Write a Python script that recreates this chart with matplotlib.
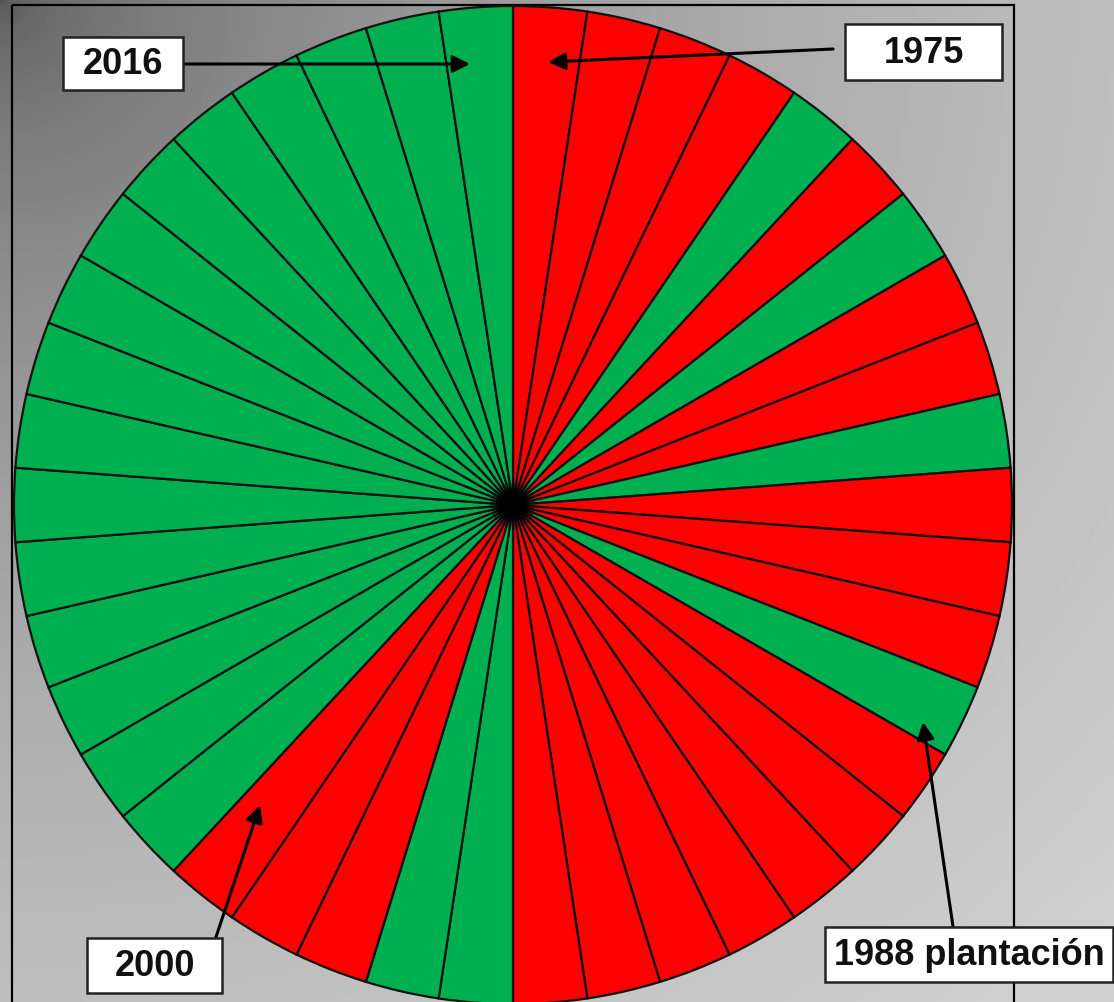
import numpy as np
import matplotlib.pyplot as plt
from matplotlib.patches import Rectangle, Circle

# one slice per year, clockwise from 12 o'clock
years = list(range(1975, 2017))
status = ['R', 'R', 'R', 'R', 'G', 'R', 'G', 'R', 'R', 'G',
          'R', 'R', 'R', 'G', 'R', 'R', 'R', 'R', 'R', 'R',
          'R', 'G', 'G', 'R', 'R', 'R',
          'G', 'G', 'G', 'G', 'G', 'G', 'G', 'G',
          'G', 'G', 'G', 'G', 'G', 'G', 'G', 'G']
slice_size = [1] * len(years)

label_text = ['2016', '1975', '1988 plantación', '2000']
label_year = [2016, 1975, 1988, 2000]

colour = {'R': '#ff0000', 'G': '#00b050'}

W, H = 1114, 1002
fig = plt.figure(figsize=(W / 100, H / 100), dpi=100)

# grey gradient background, dark in the top left corner
bg = fig.add_axes([0, 0, 1, 1])
xx, yy = np.meshgrid(np.linspace(0, 1, 300), np.linspace(0, 1, 300))
d = np.sqrt(xx**2 + yy**2) / np.sqrt(2)
grey = (85 + 125 * d**0.5) / 255
bg.imshow(grey, cmap='gray', vmin=0, vmax=1, extent=[0, W, H, 0], aspect='auto')
bg.set_xlim(0, W)
bg.set_ylim(H, 0)
bg.axis('off')
bg.add_patch(Rectangle((12, 5), 1002, 1010, fill=False, ec='black', lw=1.6))

# the pie itself
cx, cy, r = 513, 505, 499
ax = fig.add_axes([(cx - r) / W, (H - cy - r) / H, 2 * r / W, 2 * r / H])
ax.pie(slice_size, colors=[colour[s] for s in status], startangle=90,
       counterclock=False, radius=1,
       wedgeprops=dict(edgecolor='#111111', linewidth=1.6))
# dark blob where all the edges meet
for rr, a in [(0.045, 0.25), (0.035, 0.5), (0.027, 1.0)]:
    ax.add_patch(Circle((0, 0), rr, color='black', alpha=a, lw=0, zorder=5))
ax.set_xlim(-1, 1)
ax.set_ylim(-1, 1)
ax.set_aspect('equal')
ax.axis('off')

# labels with arrows, drawn in pixel space on top
ov = fig.add_axes([0, 0, 1, 1], facecolor='none')
ov.set_xlim(0, W)
ov.set_ylim(H, 0)
ov.axis('off')

boxes = [(63, 37, 120, 53), (845, 24, 157, 56), (825, 927, 288, 55), (87, 938, 135, 55)]
tails = [(183, 64), (833, 49), (955, 940), (215, 940)]
tips = [(470, 64), (548, 62), (923, 722), (260, 805)]

for txt, (bx, by, bw, bh), tail, tip in zip(label_text, boxes, tails, tips):
    ov.annotate('', xy=tip, xytext=tail,
                arrowprops=dict(arrowstyle='-|>', color='black', lw=2.2,
                                mutation_scale=26, shrinkA=0, shrinkB=0))
    ov.add_patch(Rectangle((bx, by), bw, bh, fc='white', ec='#222222', lw=1.8, zorder=4))
    ov.text(bx + bw / 2, by + bh / 2 + 1, txt, ha='center', va='center',
            fontsize=26, fontweight='bold', family='Liberation Sans',
            color='#111111', zorder=5)

fig.savefig('out.png', dpi=100)
